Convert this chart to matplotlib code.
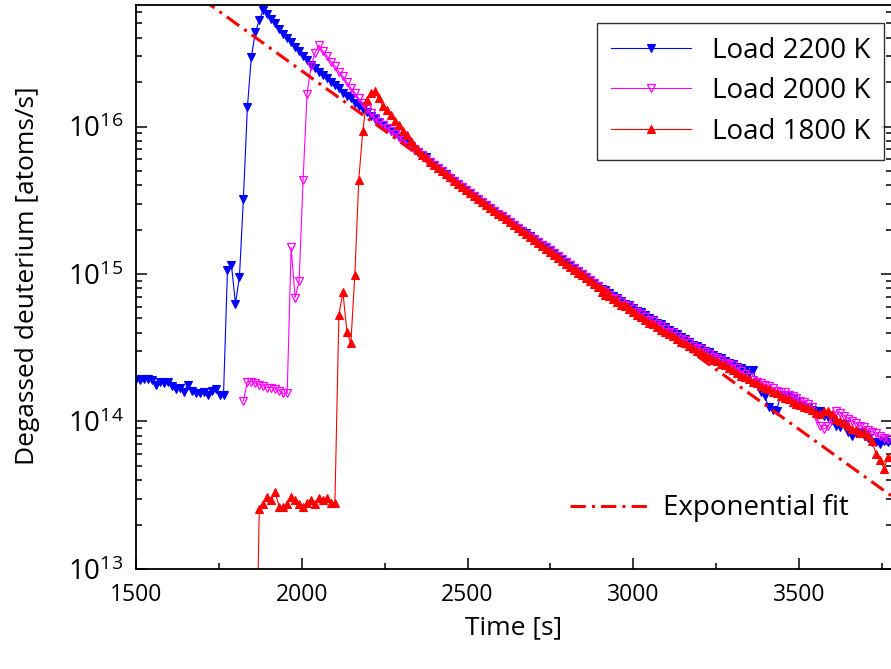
import numpy as np
import matplotlib
matplotlib.use("Agg")
import matplotlib.pyplot as plt
from matplotlib.ticker import LogLocator, MultipleLocator, NullFormatter

plt.rcParams['font.family'] = ['Open Sans', 'DejaVu Sans']
plt.rcParams['mathtext.default'] = 'regular'

# sampling step of the degassing measurements [s]
T_STEP = 12

# log10 of degassed deuterium [atoms/s]
blue_t0 = 1500
blue_log = [
    14.29, 14.28, 14.29, 14.29, 14.28, 14.25, 14.27, 14.26, 14.27, 14.24, 14.22, 14.23,
    14.20, 14.25, 14.21, 14.19, 14.19, 14.20, 14.18, 14.21, 14.22, 14.18, 14.18,
    15.03, 15.06, 14.80, 14.98, 15.51, 16.13, 16.47, 16.64, 16.72, 16.79,
    16.76, 16.73, 16.70, 16.66, 16.63, 16.60, 16.57, 16.54, 16.51, 16.48, 16.45, 16.42,
    16.40, 16.37, 16.35, 16.33, 16.30, 16.28, 16.26, 16.23, 16.21, 16.19, 16.16, 16.14,
    16.12, 16.10, 16.07,
    16.05, 16.03, 16.01, 15.99, 15.97, 15.95, 15.93, 15.91, 15.89, 15.87, 15.85, 15.83,
    15.81, 15.79, 15.76, 15.74, 15.72, 15.70, 15.68, 15.65, 15.63, 15.61, 15.59, 15.57,
    15.55, 15.53, 15.51, 15.49, 15.47, 15.45, 15.43, 15.41, 15.39, 15.37, 15.35, 15.33,
    15.31, 15.29, 15.28, 15.26, 15.24, 15.22, 15.20, 15.18, 15.16, 15.14, 15.12, 15.10,
    15.08, 15.06, 15.04, 15.02, 15.00, 14.98, 14.96, 14.94, 14.92,
    14.90, 14.89, 14.87, 14.85, 14.84, 14.82, 14.80, 14.79, 14.77, 14.75, 14.74, 14.72,
    14.70, 14.69, 14.67, 14.66, 14.64, 14.62, 14.61, 14.59, 14.57, 14.56, 14.54, 14.52,
    14.51,
    14.50, 14.48, 14.47, 14.45, 14.44, 14.43, 14.41, 14.40, 14.39, 14.37, 14.36, 14.35,
    14.33, 14.35, 14.27, 14.20, 14.17, 14.10, 14.08, 14.07, 14.18, 14.18, 14.17, 14.15,
    14.13, 14.11, 14.10, 14.09,
    14.08, 14.06, 14.07, 14.04, 14.03, 14.01, 13.97, 13.96, 13.98, 13.93, 13.90, 13.92,
    13.93, 13.91, 13.89, 13.86, 13.86, 13.85, 13.87, 13.86,
]

magenta_t0 = 1824
magenta_log = [
    14.14, 14.27, 14.27, 14.26, 14.25, 14.24, 14.23, 14.23, 14.22, 14.21, 14.19, 14.19,
    15.18, 14.84, 14.95, 15.64, 16.22, 16.41, 16.50, 16.55,
    16.51, 16.48, 16.44, 16.41, 16.37, 16.34, 16.30, 16.26, 16.23, 16.19, 16.16, 16.12,
    16.09, 16.06, 16.03, 16.01, 15.99, 15.97,
    15.95, 15.93, 15.91, 15.89, 15.87, 15.85, 15.83, 15.81, 15.78, 15.76, 15.74, 15.72,
    15.70, 15.67, 15.65, 15.63, 15.61, 15.59, 15.57, 15.55, 15.53, 15.51, 15.49, 15.47,
    15.45, 15.43, 15.41, 15.39, 15.37, 15.35, 15.33, 15.31, 15.29, 15.27, 15.25, 15.24,
    15.22, 15.20, 15.18, 15.16, 15.14, 15.12, 15.10, 15.08, 15.06, 15.04, 15.02, 15.00,
    14.98, 14.96, 14.94, 14.92,
    14.89, 14.88, 14.86, 14.84, 14.83, 14.81, 14.79, 14.78, 14.76, 14.74, 14.73, 14.71,
    14.69, 14.68, 14.66, 14.65, 14.63, 14.61, 14.60, 14.58, 14.56, 14.55, 14.53, 14.51,
    14.50, 14.49, 14.47, 14.46, 14.44, 14.43, 14.42, 14.40, 14.39, 14.38, 14.36, 14.34,
    14.32, 14.30, 14.28, 14.27, 14.26, 14.25, 14.24, 14.23, 14.21, 14.20, 14.20, 14.18,
    14.17, 14.16, 14.14, 14.13, 14.12, 14.10,
    14.03, 13.97, 13.95, 13.97, 14.02, 14.07, 14.06, 14.04, 14.02, 14.00, 13.99, 13.97,
    13.96, 13.94, 13.93, 13.92, 13.90, 13.89, 13.88,
]

red_t0 = 1860
red_log = [
    12.00, 13.41, 13.44, 13.49, 13.47, 13.52, 13.42, 13.42, 13.44, 13.49, 13.47, 13.44,
    13.42, 13.45, 13.47, 13.44, 13.48, 13.47, 13.48, 13.45, 13.45,
    14.72, 14.88, 14.61, 14.53, 14.99, 15.64, 15.97, 16.18, 16.23, 16.24,
    16.19, 16.14, 16.11, 16.08, 16.04, 16.01, 15.97, 15.94, 15.90, 15.87, 15.84, 15.81,
    15.79, 15.76, 15.74,
    15.72, 15.70, 15.68, 15.66, 15.63, 15.61, 15.59, 15.57, 15.55, 15.53, 15.51, 15.49,
    15.47, 15.45, 15.43, 15.41, 15.39, 15.37, 15.35, 15.33, 15.31, 15.29, 15.27, 15.25,
    15.23, 15.21, 15.19, 15.17, 15.15, 15.13, 15.11, 15.09, 15.07, 15.05, 15.03, 15.01,
    14.99, 14.97, 14.95, 14.93, 14.91,
    14.88, 14.86, 14.85, 14.83, 14.81, 14.79, 14.78, 14.76, 14.74, 14.72, 14.71, 14.69,
    14.67, 14.66, 14.64, 14.62, 14.61, 14.59, 14.58, 14.56, 14.54, 14.53, 14.51, 14.50,
    14.48, 14.47, 14.45, 14.44, 14.42, 14.41, 14.39, 14.38, 14.36, 14.35, 14.33, 14.31,
    14.30, 14.29, 14.27, 14.26, 14.24, 14.23, 14.22, 14.20, 14.19, 14.17, 14.16, 14.15,
    14.13, 14.12, 14.11, 14.10, 14.09, 14.08, 14.06, 14.05, 14.07, 14.07, 14.05, 14.02,
    14.00, 13.99, 13.97, 13.95, 13.94, 13.92, 13.93, 13.90, 13.87, 13.78, 13.74, 13.68,
    13.76,
]

labels = ["Load 2200 K", "Load 2000 K", "Load 1800 K"]

# exponential fit: N(t) = A * exp(-(t - t_ref) / tau)
fit_A = 3.69e15
fit_tref = 2500
fit_tau = 268
fit_range = (1650, 3800)


def series(t0, logs):
    t = t0 + T_STEP * np.arange(len(logs))
    return t, 10.0 ** np.array(logs)


fig = plt.figure(figsize=(8.91, 6.69), dpi=100)
ax = fig.add_axes([0.1526, 0.1495, 0.8485, 0.8435])

bt, by = series(blue_t0, blue_log)
mt, my = series(magenta_t0, magenta_log)
rt, ry = series(red_t0, red_log)

l1, = ax.plot(bt, by, color="#0000ff", lw=0.8, marker="v", ms=6,
              mfc="#0000ff", mec="#0000ff", mew=0.8)
l2, = ax.plot(mt, my, color="#ff00ff", lw=0.8, marker="v", ms=6,
              mfc="none", mec="#ff00ff", mew=0.9)
l3, = ax.plot(rt, ry, color="#ff0000", lw=0.8, marker="^", ms=6,
              mfc="#ff0000", mec="#ff0000", mew=0.8)

ft = np.linspace(fit_range[0], fit_range[1], 200)
lf, = ax.plot(ft, fit_A * np.exp(-(ft - fit_tref) / fit_tau), color="#ff0000",
              lw=2.2, dashes=[5, 2, 1, 2])

ax.set_yscale("log")
ax.set_xlim(1500, 3780)
ax.set_ylim(1e13, 6.7e16)

ax.xaxis.set_major_locator(MultipleLocator(500))
ax.xaxis.set_minor_locator(MultipleLocator(250))
ax.yaxis.set_major_locator(LogLocator(base=10))
ax.yaxis.set_minor_locator(LogLocator(base=10, subs=np.arange(2, 10)))
ax.yaxis.set_minor_formatter(NullFormatter())

ax.tick_params(which="both", direction="in", right=True, top=False, width=1.1)
ax.tick_params(which="major", length=8)
ax.tick_params(which="minor", length=4.5)
ax.tick_params(axis="x", labelsize=16.5, pad=10)
ax.tick_params(axis="y", labelsize=20, pad=9)
for sp in ax.spines.values():
    sp.set_linewidth(1.3)

ax.set_xlabel("Time [s]", fontsize=19)
ax.set_ylabel("Degassed deuterium [atoms/s]", fontsize=19)
ax.xaxis.set_label_coords(0.5, -0.082)
ax.yaxis.set_label_coords(-0.127, 0.52)

leg = ax.legend([l1, l2, l3], labels, loc="upper right",
                bbox_to_anchor=(0.99, 0.968), fontsize=20, frameon=True,
                fancybox=False, edgecolor="black", handlelength=2.9,
                labelspacing=0.45, borderpad=0.5, handletextpad=0.75,
                borderaxespad=0)
leg.get_frame().set_linewidth(1.0)
ax.add_artist(leg)

ax.legend([lf], ["Exponential fit"], loc="lower left",
          bbox_to_anchor=(0.559, 0.063), fontsize=20, frameon=False,
          handlelength=2.9, handletextpad=0.45, borderaxespad=0)

fig.savefig("out.png", dpi=100)
